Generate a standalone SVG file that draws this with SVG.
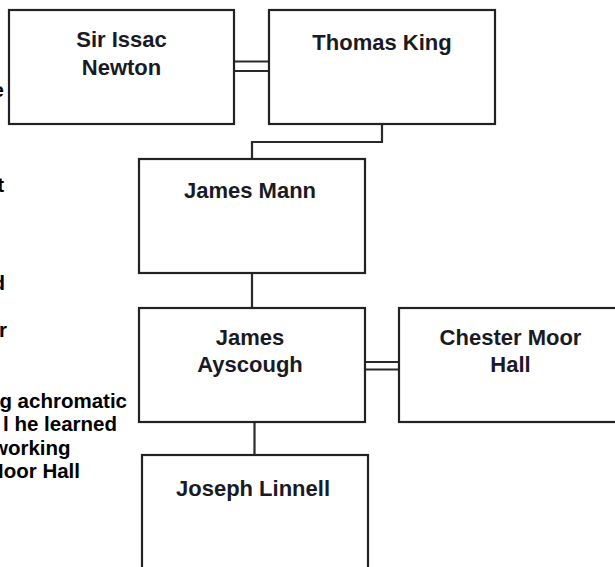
<svg xmlns="http://www.w3.org/2000/svg" width="615" height="567" viewBox="0 0 615 567">
<style>
.box{fill:#fff;stroke:#222;stroke-width:2.2}
.lbl{font-family:"Liberation Sans",Arial,sans-serif;font-weight:bold;font-size:22px;fill:#1a1a24;text-anchor:middle}
.side{font-family:"Liberation Sans",Arial,sans-serif;font-weight:bold;font-size:20.5px;fill:#000;text-anchor:end}
.con{fill:none;stroke:#2a2a2a;stroke-width:2.2}
</style>
<rect width="615" height="567" fill="#fff"/>
<g id="side-text">
<text class="side" x="4" y="97">e</text>
<text class="side" x="4" y="192">t</text>
<text class="side" x="5" y="290">d</text>
<text class="side" x="7" y="337">r</text>
<text class="side" x="127" y="408">g achromatic</text>
<text class="side" x="117" y="431">l he learned</text>
<text class="side" x="67" y="455" style="text-anchor:start" dx="-75">working</text>
<text class="side" x="80" y="478">Moor Hall</text>
</g>
<g id="connectors">
<line class="con" x1="234" y1="61.5" x2="269" y2="61.5"/>
<line class="con" x1="234" y1="71" x2="269" y2="71"/>
<polyline class="con" points="382,124 382,142 252,142 252,159"/>
<line class="con" x1="252" y1="273" x2="252" y2="308"/>
<line class="con" x1="365" y1="362" x2="399" y2="362"/>
<line class="con" x1="365" y1="369.5" x2="399" y2="369.5"/>
<line class="con" x1="254.5" y1="422" x2="254.5" y2="455"/>
</g>
<g id="newton">
<rect class="box" x="9" y="10" width="225" height="114"/>
<text class="lbl" x="121.5" y="47">Sir Issac</text>
<text class="lbl" x="121.5" y="75">Newton</text>
</g>
<g id="king">
<rect class="box" x="269" y="10" width="226" height="114"/>
<text class="lbl" x="382" y="50">Thomas King</text>
</g>
<g id="mann">
<rect class="box" x="139" y="159" width="226" height="114"/>
<text class="lbl" x="250" y="198">James Mann</text>
</g>
<g id="ayscough">
<rect class="box" x="139" y="308" width="226" height="114"/>
<text class="lbl" x="250" y="345">James</text>
<text class="lbl" x="250" y="372">Ayscough</text>
</g>
<g id="hall">
<rect class="box" x="399" y="308" width="224" height="114"/>
<text class="lbl" x="510.5" y="345">Chester Moor</text>
<text class="lbl" x="510.5" y="372">Hall</text>
</g>
<g id="linnell">
<rect class="box" x="142" y="455" width="226" height="120"/>
<text class="lbl" x="253" y="496">Joseph Linnell</text>
</g>
</svg>
